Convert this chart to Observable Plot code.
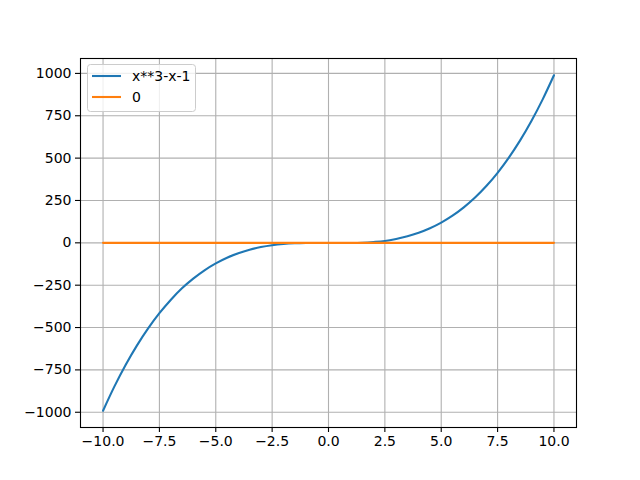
<!DOCTYPE html>
<html>
<head>
<meta charset="utf-8">
<script src="https://cdn.jsdelivr.net/npm/d3@7"></script>
<script src="https://cdn.jsdelivr.net/npm/@observablehq/plot@0.6"></script>
<style>
  html, body { margin: 0; padding: 0; background: #fff; }
  #chart { width: 640px; height: 480px; }
</style>
</head>
<body>
<div id="chart"></div>
<script>
// Values
const xs = [-10, -9.5, -9, -8.5, -8, -7.5, -7, -6.5, -6, -5.5, -5, -4.5, -4, -3.5, -3, -2.5, -2, -1.5, -1, -0.5,
            0, 0.5, 1, 1.5, 2, 2.5, 3, 3.5, 4, 4.5, 5, 5.5, 6, 6.5, 7, 7.5, 8, 8.5, 9, 9.5, 10];
const cubicValues = [-991, -848.9, -721, -606.6, -505, -415.4, -337, -268.1, -211, -161.9, -121, -87.6, -61, -40.4, -25, -14.1, -7, -2.9, -1, -0.6,
                     -1, -1.4, -1, 0.9, 5, 11.1, 23, 38.4, 59, 85.6, 119, 159.9, 209, 267.1, 335, 413.4, 503, 604.6, 719, 846.9, 989];
const zeroX = [-10, 10];
const zeroValues = [0, 0];
const seriesNames = ["x**3-x-1", "0"];
const seriesColors = ["#1f77b4", "#ff7f0e"];
const xTicks = [-10, -7.5, -5, -2.5, 0, 2.5, 5, 7.5, 10];
const yTicks = [-1000, -750, -500, -250, 0, 250, 500, 750, 1000];

const cubic = xs.map((x, i) => ({x, y: cubicValues[i]}));
const zero = zeroX.map((x, i) => ({x, y: zeroValues[i]}));

const minus = s => s.replace(/-/g, "\u2212");
const fmtX = d => minus(d.toFixed(1));
const fmtY = d => minus(String(d));

const font = "DejaVu Sans, sans-serif";

const chart = Plot.plot({
  width: 640,
  height: 480,
  marginLeft: 80,
  marginRight: 64,
  marginTop: 58,
  marginBottom: 53,
  style: {fontFamily: font, fontSize: "14px", background: "#fff", color: "#000"},
  x: {domain: [-11, 11], ticks: xTicks, tickFormat: fmtX, label: null},
  y: {domain: [-1090, 1088], ticks: yTicks, tickFormat: fmtY, label: null},
  marks: [
    Plot.gridX(xTicks, {stroke: "#b0b0b0", strokeOpacity: 1, strokeWidth: 1.1}),
    Plot.gridY(yTicks, {stroke: "#b0b0b0", strokeOpacity: 1, strokeWidth: 1.1}),
    Plot.line(cubic, {x: "x", y: "y", stroke: seriesColors[0], strokeWidth: 2.1, curve: "catmull-rom"}),
    Plot.line(zero, {x: "x", y: "y", stroke: seriesColors[1], strokeWidth: 2.1}),
    Plot.frame({stroke: "#000", strokeWidth: 1.1}),
    Plot.axisX(xTicks, {tickFormat: fmtX, tickSize: 5, tickPadding: 4, stroke: "#000", strokeWidth: 1.1, fontSize: 14, label: null}),
    Plot.axisY(yTicks, {tickFormat: fmtY, tickSize: 5, tickPadding: 4, stroke: "#000", strokeWidth: 1.1, fontSize: 14, label: null})
  ]
});

document.getElementById("chart").appendChild(chart);

// Legend inside the axes, upper left
const svg = d3.select(chart);
const lg = svg.append("g").attr("transform", "translate(87,64)");
lg.append("rect")
  .attr("x", 0.5).attr("y", 0.5)
  .attr("width", 108).attr("height", 47)
  .attr("rx", 3).attr("ry", 3)
  .attr("fill", "#fff").attr("fill-opacity", 0.8)
  .attr("stroke", "#cccccc").attr("stroke-width", 1);
seriesNames.forEach((name, i) => {
  const y = 12 + i * 21;
  lg.append("line")
    .attr("x1", 5).attr("x2", 34).attr("y1", y).attr("y2", y)
    .attr("stroke", seriesColors[i]).attr("stroke-width", 2.1);
  lg.append("text")
    .attr("x", 45).attr("y", y).attr("dy", "0.35em")
    .attr("text-anchor", "start")
    .attr("font-family", font).attr("font-size", 14)
    .attr("fill", "#000")
    .text(name);
});
</script>
</body>
</html>
